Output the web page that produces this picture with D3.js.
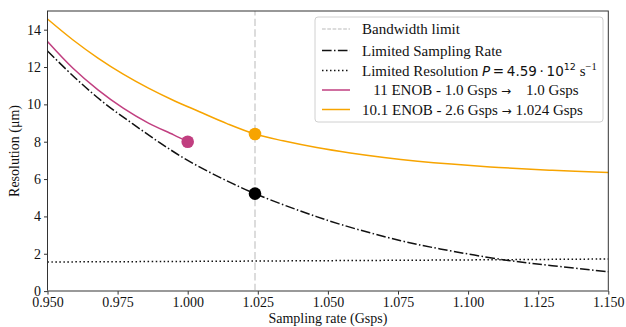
<!DOCTYPE html>
<html><head><meta charset="utf-8">
<script src="https://cdn.jsdelivr.net/npm/d3@7/dist/d3.min.js"></script>
<style>
body{margin:0;background:#fff;}
svg text{font-family:"Liberation Serif","Times New Roman",serif;fill:#111;}
</style></head>
<body><svg id="c" width="626" height="327"></svg>
<script>
// ---- data ----
const xTicks = [0.950,0.975,1.000,1.025,1.050,1.075,1.100,1.125,1.150];
const yTicks = [0,2,4,6,8,10,12,14];

const bandwidthLimitX = 1.024;

const samplingX = [0.95,0.96,0.97,0.98,0.99,1.0,1.012,1.024,1.04,1.055,1.076,1.09,1.113,1.13,1.15];
const samplingY = [12.86,11.4,10.1,9.0,7.95,7.0,6.05,5.22,4.3,3.55,2.7,2.26,1.67,1.36,1.04];

const resolutionX = [0.95,1.0,1.05,1.10,1.15];
const resolutionY = [1.56,1.59,1.63,1.67,1.72];

const enob11X = [0.95,0.959,0.968,0.977,0.986,0.995,1.0];
const enob11Y = [13.37,11.95,10.78,9.80,9.00,8.37,8.0];

const enob10X = [0.95,0.959,0.968,0.977,0.986,0.995,1.004,1.014,1.024,1.034,1.046,1.058,1.070,1.082,1.094,1.111,1.13,1.15];
const enob10Y = [14.57,13.46,12.48,11.62,10.87,10.21,9.62,8.97,8.41,8.05,7.69,7.40,7.16,6.96,6.80,6.62,6.47,6.35];

const markerX = [1.0, 1.024, 1.024];
const markerY = [8.0, 8.41, 5.22];

// ---- drawing ----
const svg = d3.select("#c");
const L=47.5, R=608.3, T=11, B=291.1;
const x = d3.scaleLinear().domain([0.95,1.15]).range([L,R]);
const y = d3.scaleLinear().domain([0,15]).range([B,T]);
const PINK="#c13f80", ORANGE="#f7a400";
const SERIF="Liberation Serif";

svg.append("rect").attr("x",0).attr("y",0).attr("width",626).attr("height",327).attr("fill","#fff");

// bandwidth limit
svg.append("line").attr("x1",x(bandwidthLimitX)).attr("x2",x(bandwidthLimitX))
  .attr("y1",B).attr("y2",T).attr("stroke","#dcdcdc").attr("stroke-width",2)
  .attr("stroke-dasharray","7.4,3.2");

const line = (xs,ys)=> d3.line().x((d,i)=>x(xs[i])).y(d=>y(d)).curve(d3.curveCatmullRom.alpha(0.5))(ys);

svg.append("path").attr("d",line(resolutionX,resolutionY)).attr("fill","none")
  .attr("stroke","#111").attr("stroke-width",1.5).attr("stroke-dasharray","1.5,2.5");
svg.append("path").attr("d",line(samplingX,samplingY)).attr("fill","none")
  .attr("stroke","#111").attr("stroke-width",1.5).attr("stroke-dasharray","9.6,2.4,1.5,2.4");
svg.append("path").attr("d",line(enob11X,enob11Y)).attr("fill","none")
  .attr("stroke",PINK).attr("stroke-width",1.5);
svg.append("path").attr("d",line(enob10X,enob10Y)).attr("fill","none")
  .attr("stroke",ORANGE).attr("stroke-width",1.5);

const mColors=[PINK,ORANGE,"#000"];
svg.selectAll("circle.m").data(markerX).enter().append("circle").attr("class","m")
  .attr("cx",d=>x(d)).attr("cy",(d,i)=>y(markerY[i])).attr("r",6.3).attr("fill",(d,i)=>mColors[i]);

// frame
svg.append("rect").attr("x",L).attr("y",T).attr("width",R-L).attr("height",B-T)
  .attr("fill","none").attr("stroke","#333").attr("stroke-width",1);
svg.append("line").attr("x1",L).attr("x2",R).attr("y1",B).attr("y2",B).attr("stroke","#999").attr("stroke-width",2);

// axes
const xa = svg.append("g").attr("transform",`translate(0,${B})`)
  .call(d3.axisBottom(x).tickValues(xTicks).tickFormat(d3.format(".3f")).tickSize(3.5).tickPadding(2));
const ya = svg.append("g").attr("transform",`translate(${L},0)`)
  .call(d3.axisLeft(y).tickValues(yTicks).tickSize(3.5).tickPadding(3));
[xa,ya].forEach(a=>{a.select(".domain").remove();
  a.selectAll("text").attr("font-family",SERIF).attr("font-size",14).attr("fill","#111");
  a.selectAll("line").attr("stroke","#333");});

svg.append("text").attr("x",(L+R)/2).attr("y",323).attr("text-anchor","middle")
  .attr("font-family",SERIF).attr("font-size",14).text("Sampling rate (Gsps)");
svg.append("text").attr("transform","translate(19,151) rotate(-90)").attr("text-anchor","middle")
  .attr("font-family",SERIF).attr("font-size",14).text("Resolution (μm)");

// legend
const lg = svg.append("g");
lg.append("rect").attr("x",315).attr("y",17).attr("width",288).attr("height",105).attr("rx",3)
  .attr("fill","#fff").attr("fill-opacity",0.8).attr("stroke","#d0d0d0").attr("stroke-width",1);
const rowsY=[29,50.5,70.5,90,109.5];
const styles=[
  {c:"#dcdcdc",w:2,da:"3.7,1.6"},
  {c:"#111",w:1.5,da:"9.6,2.4,1.5,2.4"},
  {c:"#111",w:1.5,da:"1.5,2.5"},
  {c:PINK,w:1.5,da:null},
  {c:ORANGE,w:1.5,da:null}];
styles.forEach((s,i)=>{
  lg.append("line").attr("x1",322).attr("x2",350).attr("y1",rowsY[i]).attr("y2",rowsY[i])
   .attr("stroke",s.c).attr("stroke-width",s.w).attr("stroke-dasharray",s.da);
});
const tx=362, fs=15;
const t = i => lg.append("text").attr("x",tx).attr("y",rowsY[i]+5).attr("font-family",SERIF)
  .attr("font-size",fs).style("white-space","pre");
t(0).text("Bandwidth limit");
t(1).text("Limited Sampling Rate");
const t3=t(2);
t3.append("tspan").text("Limited Resolution ");
t3.append("tspan").attr("font-family","DejaVu Sans").attr("font-size",13.5).attr("font-style","oblique").text("P");
t3.append("tspan").attr("font-family","DejaVu Sans").attr("font-size",13.5).text("\u2009=\u20094.59\u2009·\u200910");
t3.append("tspan").attr("font-family","DejaVu Sans").attr("font-size",9.5).attr("dy",-6).text("12");
t3.append("tspan").attr("dy",6).text(" s");
t3.append("tspan").attr("font-size",10.5).attr("dy",-6).text("−1");
const t4=t(3);
t4.append("tspan").text("   11 ENOB - 1.0 Gsps ");
t4.append("tspan").attr("font-family","DejaVu Sans").attr("font-size",12).text("→");
t4.append("tspan").text("    1.0 Gsps");
const t5=t(4);
t5.append("tspan").text("10.1 ENOB - 2.6 Gsps ");
t5.append("tspan").attr("font-family","DejaVu Sans").attr("font-size",12).text("→");
t5.append("tspan").text(" 1.024 Gsps");
</script></body></html>
